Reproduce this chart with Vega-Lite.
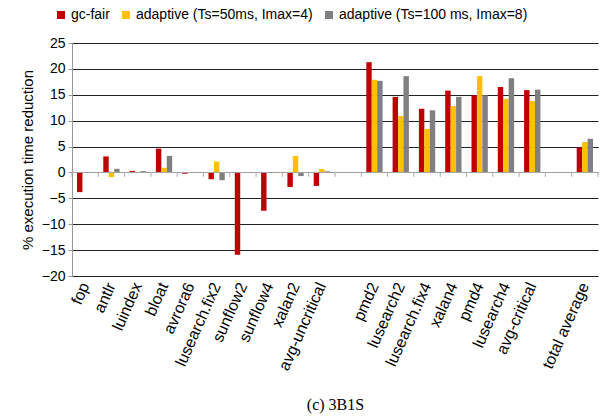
{
  "$schema": "https://vega.github.io/schema/vega-lite/v6.json",
  "width": 526,
  "height": 233,
  "autosize": "none",
  "padding": {"left": 72, "top": 43, "right": 6, "bottom": 144},
  "background": "white",
  "config": {
    "font": "Liberation Sans",
    "view": {"stroke": null}
  },
  "datasets": {
    "bars": [
      {"bench": "fop", "series": "gc-fair", "value": -3.8},
      {"bench": "fop", "series": "adaptive (Ts=50ms, Imax=4)", "value": 0},
      {"bench": "fop", "series": "adaptive (Ts=100 ms, Imax=8)", "value": 0},
      {"bench": "antlr", "series": "gc-fair", "value": 3.1},
      {"bench": "antlr", "series": "adaptive (Ts=50ms, Imax=4)", "value": -0.9},
      {"bench": "antlr", "series": "adaptive (Ts=100 ms, Imax=8)", "value": 0.7},
      {"bench": "luindex", "series": "gc-fair", "value": 0.3},
      {"bench": "luindex", "series": "adaptive (Ts=50ms, Imax=4)", "value": 0},
      {"bench": "luindex", "series": "adaptive (Ts=100 ms, Imax=8)", "value": 0.25},
      {"bench": "bloat", "series": "gc-fair", "value": 4.6},
      {"bench": "bloat", "series": "adaptive (Ts=50ms, Imax=4)", "value": 0.9},
      {"bench": "bloat", "series": "adaptive (Ts=100 ms, Imax=8)", "value": 3.2},
      {"bench": "avrora6", "series": "gc-fair", "value": -0.25},
      {"bench": "avrora6", "series": "adaptive (Ts=50ms, Imax=4)", "value": 0},
      {"bench": "avrora6", "series": "adaptive (Ts=100 ms, Imax=8)", "value": 0},
      {"bench": "lusearch.fix2", "series": "gc-fair", "value": -1.3},
      {"bench": "lusearch.fix2", "series": "adaptive (Ts=50ms, Imax=4)", "value": 2.1},
      {"bench": "lusearch.fix2", "series": "adaptive (Ts=100 ms, Imax=8)", "value": -1.5},
      {"bench": "sunflow2", "series": "gc-fair", "value": -15.9},
      {"bench": "sunflow2", "series": "adaptive (Ts=50ms, Imax=4)", "value": 0},
      {"bench": "sunflow2", "series": "adaptive (Ts=100 ms, Imax=8)", "value": 0},
      {"bench": "sunflow4", "series": "gc-fair", "value": -7.4},
      {"bench": "sunflow4", "series": "adaptive (Ts=50ms, Imax=4)", "value": 0},
      {"bench": "sunflow4", "series": "adaptive (Ts=100 ms, Imax=8)", "value": 0},
      {"bench": "xalan2", "series": "gc-fair", "value": -2.8},
      {"bench": "xalan2", "series": "adaptive (Ts=50ms, Imax=4)", "value": 3.2},
      {"bench": "xalan2", "series": "adaptive (Ts=100 ms, Imax=8)", "value": -0.7},
      {"bench": "avg-uncritical", "series": "gc-fair", "value": -2.6},
      {"bench": "avg-uncritical", "series": "adaptive (Ts=50ms, Imax=4)", "value": 0.65},
      {"bench": "avg-uncritical", "series": "adaptive (Ts=100 ms, Imax=8)", "value": 0.25},
      {"bench": "pmd2", "series": "gc-fair", "value": 21.3},
      {"bench": "pmd2", "series": "adaptive (Ts=50ms, Imax=4)", "value": 17.9},
      {"bench": "pmd2", "series": "adaptive (Ts=100 ms, Imax=8)", "value": 17.7},
      {"bench": "lusearch2", "series": "gc-fair", "value": 14.6},
      {"bench": "lusearch2", "series": "adaptive (Ts=50ms, Imax=4)", "value": 10.9},
      {"bench": "lusearch2", "series": "adaptive (Ts=100 ms, Imax=8)", "value": 18.6},
      {"bench": "lusearch.fix4", "series": "gc-fair", "value": 12.3},
      {"bench": "lusearch.fix4", "series": "adaptive (Ts=50ms, Imax=4)", "value": 8.4},
      {"bench": "lusearch.fix4", "series": "adaptive (Ts=100 ms, Imax=8)", "value": 12.0},
      {"bench": "xalan4", "series": "gc-fair", "value": 15.8},
      {"bench": "xalan4", "series": "adaptive (Ts=50ms, Imax=4)", "value": 12.8},
      {"bench": "xalan4", "series": "adaptive (Ts=100 ms, Imax=8)", "value": 14.6},
      {"bench": "pmd4", "series": "gc-fair", "value": 14.9},
      {"bench": "pmd4", "series": "adaptive (Ts=50ms, Imax=4)", "value": 18.6},
      {"bench": "pmd4", "series": "adaptive (Ts=100 ms, Imax=8)", "value": 14.9},
      {"bench": "lusearch4", "series": "gc-fair", "value": 16.5},
      {"bench": "lusearch4", "series": "adaptive (Ts=50ms, Imax=4)", "value": 14.2},
      {"bench": "lusearch4", "series": "adaptive (Ts=100 ms, Imax=8)", "value": 18.2},
      {"bench": "avg-critical", "series": "gc-fair", "value": 15.9},
      {"bench": "avg-critical", "series": "adaptive (Ts=50ms, Imax=4)", "value": 13.8},
      {"bench": "avg-critical", "series": "adaptive (Ts=100 ms, Imax=8)", "value": 16.0},
      {"bench": "total average", "series": "gc-fair", "value": 4.8},
      {"bench": "total average", "series": "adaptive (Ts=50ms, Imax=4)", "value": 5.9},
      {"bench": "total average", "series": "adaptive (Ts=100 ms, Imax=8)", "value": 6.5}
    ],
    "slots": [
      {"bench": "fop"}, {"bench": "antlr"}, {"bench": "luindex"}, {"bench": "bloat"}, {"bench": "avrora6"},
      {"bench": "lusearch.fix2"}, {"bench": "sunflow2"}, {"bench": "sunflow4"}, {"bench": "xalan2"}, {"bench": "avg-uncritical"},
      {"bench": " "}, {"bench": "pmd2"}, {"bench": "lusearch2"}, {"bench": "lusearch.fix4"}, {"bench": "xalan4"},
      {"bench": "pmd4"}, {"bench": "lusearch4"}, {"bench": "avg-critical"}, {"bench": "  "}, {"bench": "total average"}
    ],
    "lastslot": [{"bench": "total average"}]
  },
  "layer": [
    {
      "data": {"name": "bars"},
      "mark": {"type": "bar", "orient": "vertical"},
      "encoding": {
        "x": {
          "field": "bench",
          "type": "nominal",
          "sort": null,
          "scale": {
            "domain": ["fop", "antlr", "luindex", "bloat", "avrora6", "lusearch.fix2", "sunflow2", "sunflow4", "xalan2", "avg-uncritical", " ", "pmd2", "lusearch2", "lusearch.fix4", "xalan4", "pmd4", "lusearch4", "avg-critical", "  ", "total average"],
            "paddingInner": 0.38,
            "paddingOuter": 0.19
          },
          "axis": {
            "title": "(c) 3B1S",
            "titleFont": "Liberation Serif",
            "titleFontSize": 16,
            "titleFontWeight": "normal",
            "titleColor": "#000",
            "titleY": 133,
            "titleBaseline": "alphabetic",
            "labelAngle": -66,
            "labelFontSize": 16,
            "labelColor": "#000",
            "labelPadding": 7,
            "labelLimit": 0,
            "domain": false,
            "ticks": false,
            "grid": false
          }
        },
        "xOffset": {
          "field": "series",
          "type": "nominal",
          "sort": ["gc-fair", "adaptive (Ts=50ms, Imax=4)", "adaptive (Ts=100 ms, Imax=8)"],
          "scale": {"paddingInner": 0, "paddingOuter": 0}
        },
        "y": {
          "field": "value",
          "type": "quantitative",
          "scale": {"domain": [-20, 25], "nice": false, "zero": false},
          "axis": {
            "title": "% execution time reduction",
            "titleFontSize": 15,
            "titleFontWeight": "normal",
            "titleColor": "#000",
            "titlePadding": 6,
            "values": [-20, -15, -10, -5, 0, 5, 10, 15, 20, 25],
            "labelOverlap": false,
            "labelFontSize": 14,
            "labelColor": "#000",
            "labelPadding": 3,
            "domainColor": "#999",
            "tickColor": "#999",
            "tickSize": 4,
            "gridColor": "#222",
            "gridWidth": 1,
            "gridOpacity": 1
          }
        },
        "color": {
          "field": "series",
          "type": "nominal",
          "sort": ["gc-fair", "adaptive (Ts=50ms, Imax=4)", "adaptive (Ts=100 ms, Imax=8)"],
          "scale": {
            "domain": ["gc-fair", "adaptive (Ts=50ms, Imax=4)", "adaptive (Ts=100 ms, Imax=8)"],
            "range": ["#C00000", "#FFC000", "#808080"]
          },
          "legend": {
            "title": null,
            "orient": "none",
            "legendX": -18,
            "legendY": -35,
            "direction": "horizontal",
            "symbolType": "square",
            "symbolSize": 64,
            "symbolStrokeWidth": 0,
            "labelFontSize": 14,
            "labelColor": "#000",
            "labelOffset": 3,
            "labelLimit": 0,
            "columnPadding": 9
          }
        }
      }
    },
    {
      "data": {"name": "lastslot"},
      "mark": {"type": "rule", "color": "#aaa", "strokeWidth": 1},
      "encoding": {
        "y": {
          "datum": 0,
          "type": "quantitative",
          "axis": {
            "title": "% execution time reduction",
            "titleFontSize": 15,
            "titleFontWeight": "normal",
            "titleColor": "#000",
            "titlePadding": 6,
            "values": [-20, -15, -10, -5, 0, 5, 10, 15, 20, 25],
            "labelOverlap": false,
            "labelFontSize": 14,
            "labelColor": "#000",
            "labelPadding": 3,
            "domainColor": "#999",
            "tickColor": "#999",
            "tickSize": 4,
            "gridColor": "#222",
            "gridWidth": 1,
            "gridOpacity": 1
          }
        },
        "x": {"value": 0},
        "x2": {"value": 526}
      }
    },
    {
      "data": {"name": "slots"},
      "mark": {"type": "rule", "color": "#aaa", "strokeWidth": 1},
      "encoding": {
        "x": {
          "field": "bench",
          "type": "nominal",
          "sort": null,
          "bandPosition": -0.3065,
          "axis": {
            "title": "(c) 3B1S",
            "titleFont": "Liberation Serif",
            "titleFontSize": 16,
            "titleFontWeight": "normal",
            "titleColor": "#000",
            "titleY": 133,
            "titleBaseline": "alphabetic",
            "labelAngle": -66,
            "labelFontSize": 16,
            "labelColor": "#000",
            "labelPadding": 7,
            "labelLimit": 0,
            "domain": false,
            "ticks": false,
            "grid": false
          }
        },
        "y": {
          "datum": 0,
          "type": "quantitative",
          "axis": {
            "title": "% execution time reduction",
            "titleFontSize": 15,
            "titleFontWeight": "normal",
            "titleColor": "#000",
            "titlePadding": 6,
            "values": [-20, -15, -10, -5, 0, 5, 10, 15, 20, 25],
            "labelOverlap": false,
            "labelFontSize": 14,
            "labelColor": "#000",
            "labelPadding": 3,
            "domainColor": "#999",
            "tickColor": "#999",
            "tickSize": 4,
            "gridColor": "#222",
            "gridWidth": 1,
            "gridOpacity": 1
          }
        },
        "y2": {"datum": -0.85}
      }
    },
    {
      "data": {"name": "lastslot"},
      "mark": {"type": "rule", "color": "#aaa", "strokeWidth": 1},
      "encoding": {
        "x": {
          "field": "bench",
          "type": "nominal",
          "sort": null,
          "bandPosition": 1.3065,
          "axis": {
            "title": "(c) 3B1S",
            "titleFont": "Liberation Serif",
            "titleFontSize": 16,
            "titleFontWeight": "normal",
            "titleColor": "#000",
            "titleY": 133,
            "titleBaseline": "alphabetic",
            "labelAngle": -66,
            "labelFontSize": 16,
            "labelColor": "#000",
            "labelPadding": 7,
            "labelLimit": 0,
            "domain": false,
            "ticks": false,
            "grid": false
          }
        },
        "y": {
          "datum": 0,
          "type": "quantitative",
          "axis": {
            "title": "% execution time reduction",
            "titleFontSize": 15,
            "titleFontWeight": "normal",
            "titleColor": "#000",
            "titlePadding": 6,
            "values": [-20, -15, -10, -5, 0, 5, 10, 15, 20, 25],
            "labelOverlap": false,
            "labelFontSize": 14,
            "labelColor": "#000",
            "labelPadding": 3,
            "domainColor": "#999",
            "tickColor": "#999",
            "tickSize": 4,
            "gridColor": "#222",
            "gridWidth": 1,
            "gridOpacity": 1
          }
        },
        "y2": {"datum": -0.85}
      }
    }
  ]
}
